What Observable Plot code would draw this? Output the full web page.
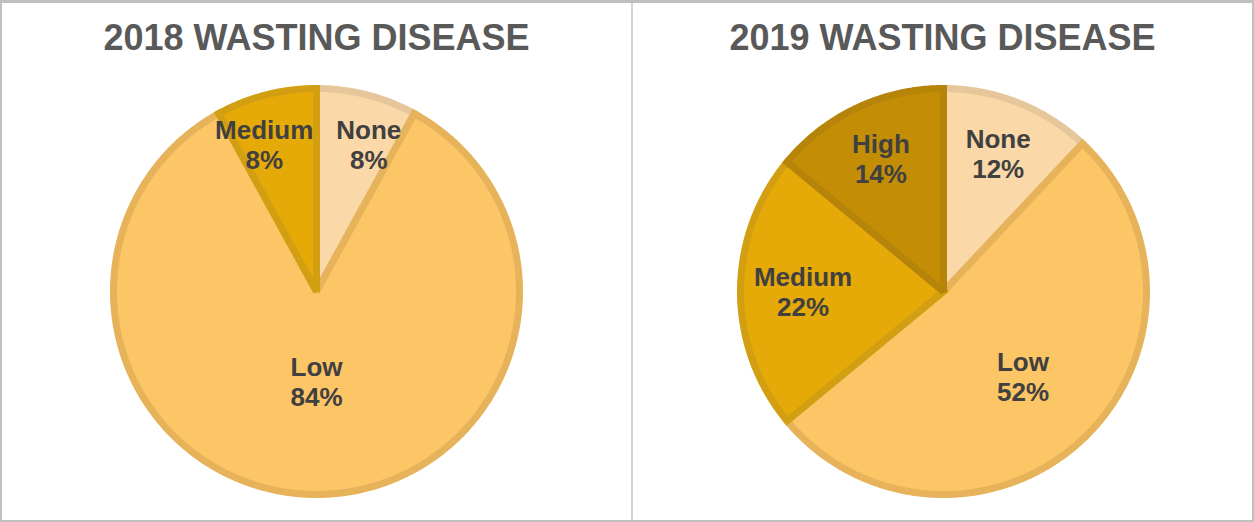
<!DOCTYPE html>
<html>
<head>
<meta charset="utf-8">
<script src="https://cdn.jsdelivr.net/npm/d3@7"></script>
<script src="https://cdn.jsdelivr.net/npm/@observablehq/plot@0.6"></script>
<style>
  html, body { margin: 0; padding: 0; background: #fff; }
  #wrap {
    position: relative; width: 1254px; height: 522px; box-sizing: border-box;
    border: 2px solid #bfbfbf; border-top-width: 3px; overflow: hidden;
    font-family: "Liberation Sans", Arial, sans-serif;
  }
  .panel { position: absolute; top: 0; height: 100%; }
  .title {
    position: absolute; left: 0; width: 100%; text-align: center;
    font-size: 36px; line-height: 36px; font-weight: bold; color: #595959;
    top: 17px;
  }
  .divider { position: absolute; top: 0; bottom: 0; left: 629px; width: 2px; background: #d4d4d4; }
  .chart { position: absolute; }
</style>
</head>
<body>
<div id="wrap">
  <div class="panel" id="p1" style="left:0;width:629px"><div class="title">2018 WASTING DISEASE</div></div>
  <div class="divider"></div>
  <div class="panel" id="p2" style="left:631px;width:619px"><div class="title">2019 WASTING DISEASE</div></div>
</div>
<script>
// ---- data ----
const categories2018 = ["None", "Low", "Medium"];
const values2018 = [8, 84, 8];
const categories2019 = ["None", "Low", "Medium", "High"];
const values2019 = [12, 52, 22, 14];

// ---- styles ----
const fillColors = {None: "#FAD8A8", Low: "#FCC566", Medium: "#E5AA08", High: "#C38E06"};
const strokeColors = {None: "#E6C79B", Low: "#E6B35B", Medium: "#D39F12", High: "#B68408"};
const R = 203;        // pixel radius of the pie
const FONT = 26;

function pieChart(categories, values) {
  const total = d3.sum(values);
  const arcs = d3.pie().sort(null).value(d => d.value)(
    categories.map((c, i) => ({cat: c, value: values[i]}))
  );
  const marks = [];
  const labels = [];
  for (const a of arcs) {
    const pts = [{x: 0, y: 0}];
    const n = Math.max(2, Math.ceil((a.endAngle - a.startAngle) / 0.01));
    for (let k = 0; k <= n; k++) {
      const t = a.startAngle + (a.endAngle - a.startAngle) * k / n;
      pts.push({x: Math.sin(t), y: Math.cos(t)});
    }
    marks.push(Plot.line(pts, {
      x: "x", y: "y", curve: "linear-closed",
      fill: fillColors[a.data.cat], stroke: strokeColors[a.data.cat],
      strokeWidth: 7, strokeLinejoin: "miter", strokeMiterlimit: 2
    }));
    const share = a.data.value / total;
    const f = 0.78 - 0.4 * share;
    const mid = (a.startAngle + a.endAngle) / 2;
    const pct = `${Math.round(share * 100)}%`;
    const w = Math.max(a.data.cat.length, pct.length) * 0.62 * FONT / R; // width in units
    labels.push({x: f * Math.sin(mid), y: f * Math.cos(mid), w, text: `${a.data.cat}\n${pct}`});
  }
  // simple horizontal de-overlap of labels
  const pad = 24 / R, lineH = 2.4 * FONT / R;
  for (let iter = 0; iter < 10; iter++) {
    for (let i = 0; i < labels.length; i++) for (let j = i + 1; j < labels.length; j++) {
      const A = labels[i], B = labels[j];
      if (Math.abs(A.y - B.y) >= lineH) continue;
      const need = (A.w + B.w) / 2 + pad;
      const d = Math.abs(A.x - B.x);
      if (d < need) {
        const s = (need - d) / 2, sign = A.x < B.x ? -1 : 1;
        A.x += sign * s; B.x -= sign * s;
      }
    }
  }
  marks.push(Plot.text(labels, {
    x: "x", y: "y", text: "text", fontSize: FONT, fontWeight: "bold",
    fill: "#404040", lineHeight: 1.15, fontFamily: "Liberation Sans, Arial, sans-serif"
  }));
  return Plot.plot({
    width: 430, height: 430, margin: 0,
    x: {domain: [-1, 1], range: [215 - R, 215 + R], axis: null},
    y: {domain: [-1, 1], range: [215 + R, 215 - R], axis: null},
    style: {background: "transparent", overflow: "visible"},
    marks
  });
}

const c1 = pieChart(categories2018, values2018);
c1.classList.add("chart");
c1.style.left = (316 - 215 - 2) + "px";
c1.style.top = (291 - 215 - 3) + "px";
document.getElementById("p1").appendChild(c1);

const c2 = pieChart(categories2019, values2019);
c2.classList.add("chart");
c2.style.left = (943 - 631 - 215 - 2) + "px";
c2.style.top = (291 - 215 - 3) + "px";
document.getElementById("p2").appendChild(c2);
</script>
</body>
</html>
